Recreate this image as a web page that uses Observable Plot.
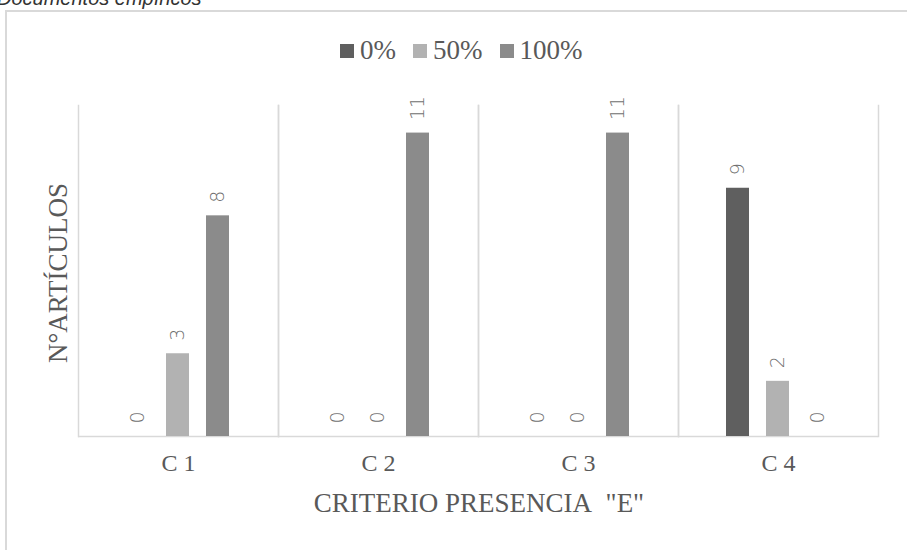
<!DOCTYPE html>
<html>
<head>
<meta charset="utf-8">
<script src="https://cdn.jsdelivr.net/npm/d3@7"></script>
<script src="https://cdn.jsdelivr.net/npm/@observablehq/plot@0.6"></script>
<style>
  body { margin:0; width:907px; height:550px; overflow:hidden; position:relative; background:#fff; }
  .cut { position:absolute; top:-13px; left:-3px; font:italic 20px "Liberation Sans", sans-serif; color:#333; white-space:nowrap; }
  .box { position:absolute; left:5px; top:10px; width:1000px; height:700px; border-left:2px solid #d9d9d9; border-top:2px solid #d9d9d9; box-sizing:border-box; }
  #chart { position:absolute; left:0; top:0; }
  .legend { position:absolute; top:35px; left:340px; display:flex; align-items:center; font:27px "Liberation Serif", serif; color:#595959; }
  .legend .item { display:flex; align-items:center; margin-right:17px; }
  .legend .sw { width:14px; height:14px; margin-right:6px; }
  .ytitle { position:absolute; left:58px; top:273px; transform:translate(-50%,-50%) rotate(-90deg); font:27px "Liberation Serif", serif; color:#595959; white-space:nowrap; }
  .xtitle { position:absolute; left:479px; top:503px; transform:translate(-50%,-50%); font:27px "Liberation Serif", serif; color:#595959; white-space:nowrap; }
</style>
</head>
<body>
<div class="cut">Documentos empíricos</div>
<div class="box"></div>
<div id="chart"></div>
<div class="legend" id="legend"></div>
<div class="ytitle">N°ARTÍCULOS</div>
<div class="xtitle">CRITERIO PRESENCIA&nbsp; "E"</div>
<script>
const categories = ["C 1", "C 2", "C 3", "C 4"];
const series = ["0%", "50%", "100%"];
const values0 = [0, 0, 0, 9];
const values50 = [3, 0, 0, 2];
const values100 = [8, 11, 11, 0];
const colors = ["#5f5f5f", "#b2b2b2", "#8b8b8b"];

const seriesValues = [values0, values50, values100];
const data = categories.flatMap((c, i) =>
  series.map((s, j) => ({cat: c, series: s, value: seriesValues[j][i]})));

const chart = Plot.plot({
  width: 907,
  height: 550,
  marginLeft: 78,
  marginRight: 29,
  marginTop: 105,
  marginBottom: 114,
  style: {background: "transparent", fontFamily: "Liberation Serif"},
  fx: {domain: categories, padding: 0, label: null},
  x: {domain: series, paddingInner: 0.42, paddingOuter: 1.21, axis: null},
  y: {domain: [0, 12], axis: null},
  color: {domain: series, range: colors},
  marks: [
    Plot.frame({anchor: "left", stroke: "#d9d9d9", strokeWidth: 1.5, strokeOpacity: 1}),
    Plot.frame({anchor: "right", stroke: "#d9d9d9", strokeWidth: 1.5, strokeOpacity: 1}),
    Plot.ruleY([0], {stroke: "#d9d9d9", strokeWidth: 1.5}),
    Plot.barY(data, {fx: "cat", x: "series", y: "value", fill: "series"}),
    Plot.text(data, {fx: "cat", x: "series", y: "value", text: d => String(d.value),
      rotate: -90, textAnchor: "start", dy: -13, fill: "#6f6f6f",
      fontSize: 19, fontFamily: "DejaVu Sans", fontWeight: 200}),
    Plot.axisFx({anchor: "bottom", tickSize: 0, tickPadding: 17, fontSize: 24,
      fontFamily: "Liberation Serif", fill: "#595959", label: null})
  ]
});
document.getElementById("chart").appendChild(chart);

const legend = document.getElementById("legend");
series.forEach((s, j) => {
  const item = document.createElement("div");
  item.className = "item";
  const sw = document.createElement("div");
  sw.className = "sw";
  sw.style.background = colors[j];
  const t = document.createElement("span");
  t.textContent = s;
  item.appendChild(sw);
  item.appendChild(t);
  legend.appendChild(item);
});
</script>
</body>
</html>
